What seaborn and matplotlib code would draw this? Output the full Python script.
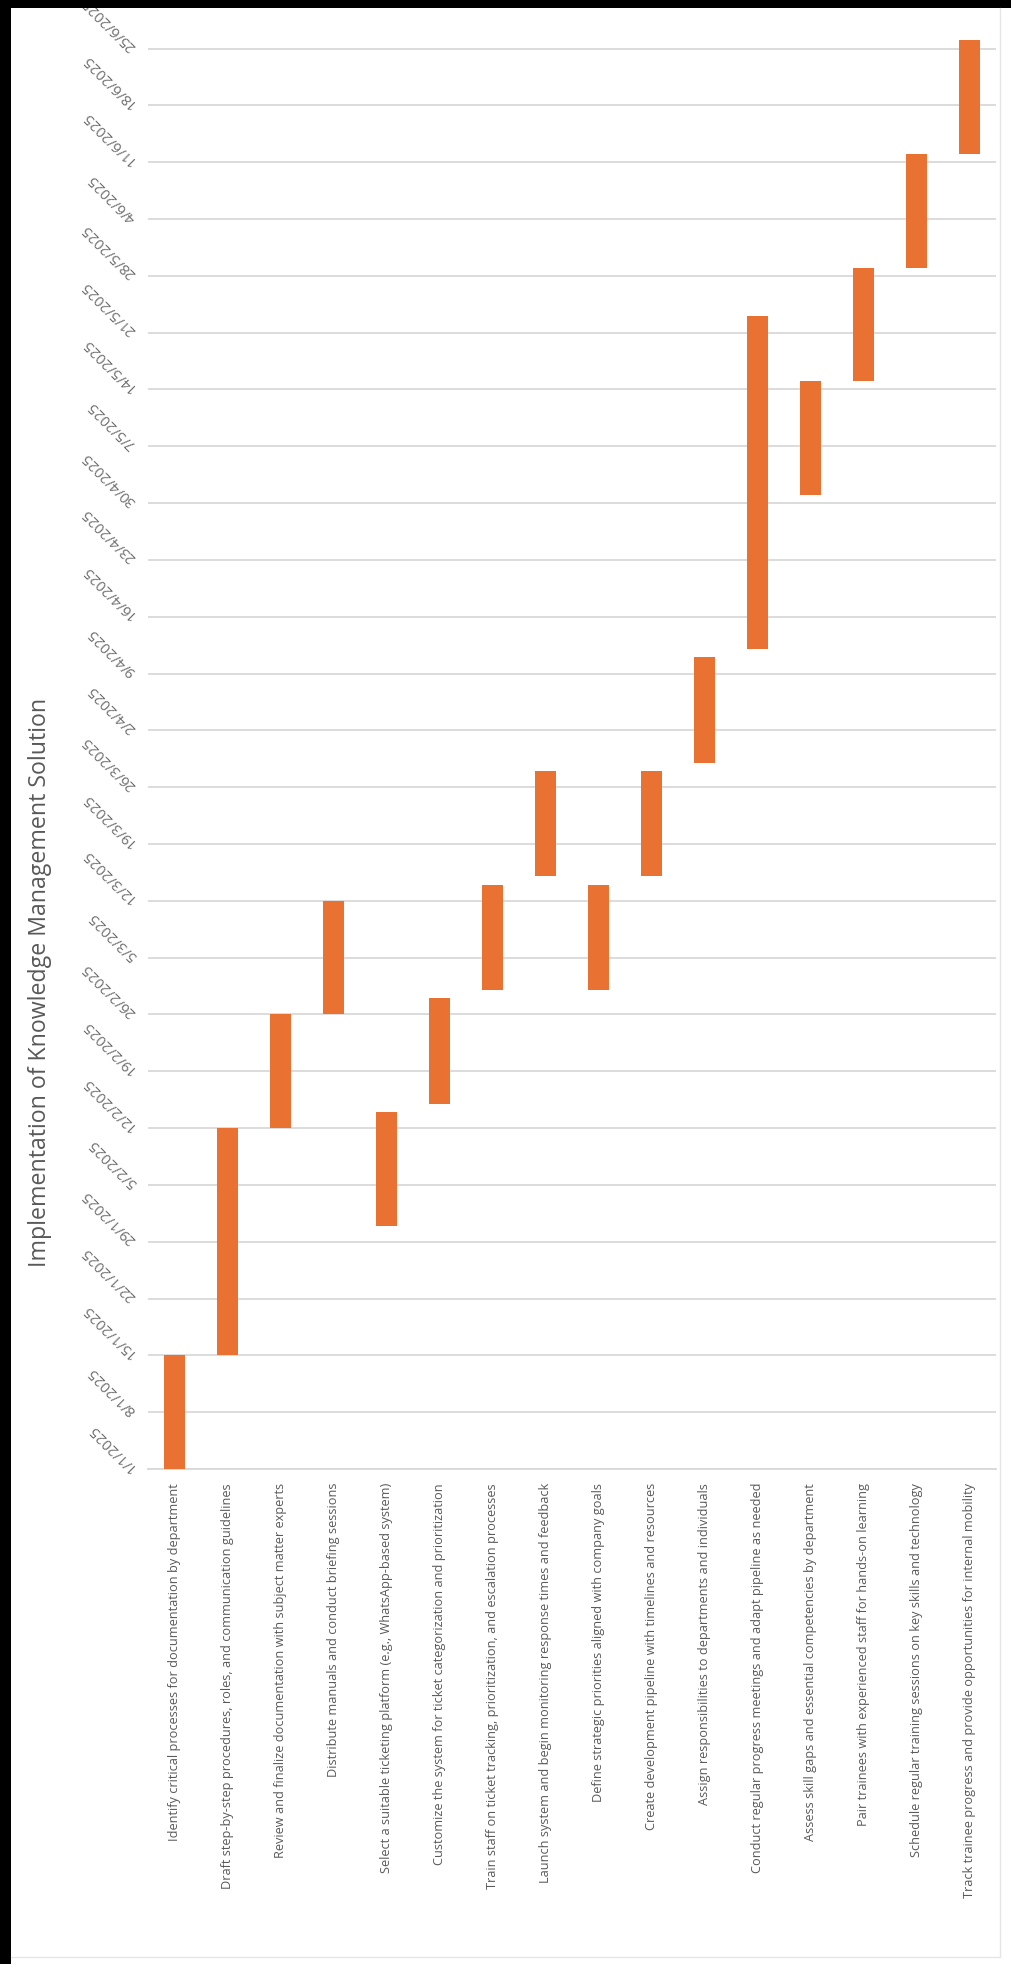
import matplotlib
matplotlib.use("Agg")
import matplotlib.pyplot as plt
import matplotlib.dates as mdates
from matplotlib.patches import Rectangle
import seaborn as sns
import pandas as pd

# ---- project plan -------------------------------------------------------
tasks = [
    "Identify critical processes for documentation by department",
    "Draft step-by-step procedures, roles, and communication guidelines",
    "Review and finalize documentation with subject matter experts",
    "Distribute manuals and conduct briefing sessions",
    "Select a suitable ticketing platform (e.g., WhatsApp-based system)",
    "Customize the system for ticket categorization and prioritization",
    "Train staff on ticket tracking, prioritization, and escalation processes",
    "Launch system and begin monitoring response times and feedback",
    "Define strategic priorities aligned with company goals",
    "Create development pipeline with timelines and resources",
    "Assign responsibilities to departments and individuals",
    "Conduct regular progress meetings and adapt pipeline as needed",
    "Assess skill gaps and essential competencies by department",
    "Pair trainees with experienced staff for hands-on learning",
    "Schedule regular training sessions on key skills and technology",
    "Track trainee progress and provide opportunities for internal mobility",
]
start_dates = [
    "2025-01-01", "2025-01-15", "2025-02-12", "2025-02-26",
    "2025-01-31", "2025-02-15", "2025-03-01", "2025-03-15",
    "2025-03-01", "2025-03-15", "2025-03-29", "2025-04-12",
    "2025-05-01", "2025-05-15", "2025-05-29", "2025-06-12",
]
end_dates = [
    "2025-01-15", "2025-02-12", "2025-02-26", "2025-03-12",
    "2025-02-14", "2025-02-28", "2025-03-14", "2025-03-28",
    "2025-03-14", "2025-03-28", "2025-04-11", "2025-05-23",
    "2025-05-15", "2025-05-29", "2025-06-12", "2025-06-26",
]
tick_start, tick_end = "2025-01-01", "2025-06-25"
axis_min, axis_max = "2025-01-01", "2025-06-30"
title = "Implementation of Knowledge Management Solution"

BAR = "#E97132"
GRID = "#D9D9D9"
TEXT = "#595959"
DATE_TEXT = "#6E6E6E"

sns.set_theme(style="white")
plt.rcParams["font.family"] = ["Open Sans", "DejaVu Sans"]

W, H = 1012, 1964
fig = plt.figure(figsize=(W / 100, H / 100), dpi=100)
fig.patch.set_facecolor("white")

ax_left, ax_right, ax_bottom, ax_top = 148, 996, 1469, 8
ax = fig.add_axes([ax_left / W, 1 - ax_bottom / H,
                   (ax_right - ax_left) / W, (ax_bottom - ax_top) / H])

df = pd.DataFrame({"task": tasks,
                   "start": pd.to_datetime(start_dates),
                   "end": pd.to_datetime(end_dates)})
df["s"] = mdates.date2num(df["start"])
df["dur"] = mdates.date2num(df["end"]) - df["s"]

sns.barplot(data=df, x="task", y="dur", order=tasks,
            bottom=df["s"].to_numpy(), color=BAR, saturation=1,
            width=0.4, linewidth=0, ax=ax, zorder=3)

# weekly date axis
ticks = pd.date_range(tick_start, tick_end, freq="7D")
ax.set_ylim(mdates.date2num(pd.Timestamp(axis_min)),
            mdates.date2num(pd.Timestamp(axis_max)))
ax.set_xlim(-0.5, len(tasks) - 0.5)
ax.set_yticks(mdates.date2num(ticks))
ax.set_yticklabels([f"{d.day}/{d.month}/{d.year}" for d in ticks],
                   rotation=135, rotation_mode="anchor",
                   ha="left", va="center", fontsize=10.5, color=DATE_TEXT)
ax.yaxis.grid(True, color=GRID, linewidth=1.3, zorder=0)
ax.xaxis.grid(False)
ax.set_axisbelow(True)
ax.tick_params(axis="y", length=0, pad=10)

ax.set_xticks(range(len(tasks)))
ax.set_xticklabels(tasks, rotation=90, ha="center", va="top",
                   fontsize=9.2, color=TEXT)
ax.tick_params(axis="x", length=0, pad=10)
ax.set_xlabel("")
ax.set_ylabel("")
for side in ["top", "right", "left"]:
    ax.spines[side].set_visible(False)
ax.spines["bottom"].set_color(GRID)
ax.spines["bottom"].set_linewidth(1.3)

fig.text(40 / W, 1 - 982 / H, title, rotation=90, ha="center", va="center",
         fontsize=16.7, color=TEXT)

# chart frame, drawn on a full-figure overlay in pixel units
frame = fig.add_axes([0, 0, 1, 1], zorder=20)
frame.set_xlim(0, W)
frame.set_ylim(H, 0)
frame.set_axis_off()
frame.patch.set_alpha(0)
frame.add_patch(Rectangle((0, 0), 11, H, facecolor="black", edgecolor="none"))
frame.add_patch(Rectangle((0, 0), W, 8, facecolor="black", edgecolor="none"))
frame.plot([1000, 1000], [8, 1957], color="#E6E6E6", lw=1)
frame.plot([11, 1000], [1957, 1957], color="#E6E6E6", lw=1)

fig.savefig("out.png", dpi=100, facecolor="white")
